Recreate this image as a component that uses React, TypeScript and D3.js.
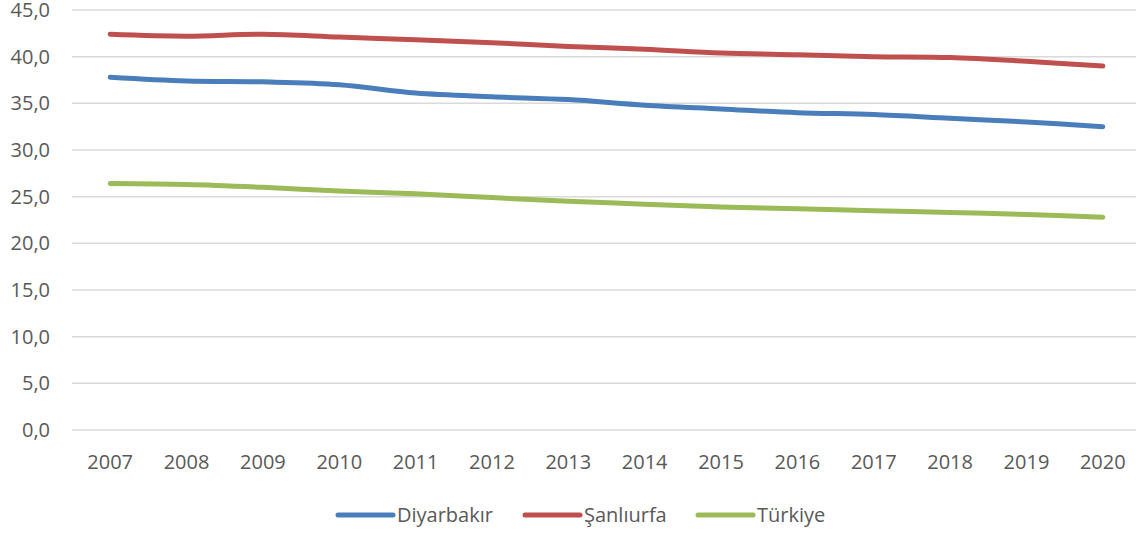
import React, { useRef, useEffect } from 'react';
import * as d3 from 'd3';

const years = ['2007', '2008', '2009', '2010', '2011', '2012', '2013', '2014', '2015', '2016', '2017', '2018', '2019', '2020'];
const diyarbakir = [37.8, 37.4, 37.3, 37.0, 36.1, 35.7, 35.4, 34.8, 34.4, 34.0, 33.8, 33.4, 33.0, 32.5];
const sanliurfa = [42.4, 42.2, 42.4, 42.1, 41.8, 41.5, 41.1, 40.8, 40.4, 40.2, 40.0, 39.9, 39.5, 39.0];
const turkiye = [26.4, 26.3, 26.0, 25.6, 25.3, 24.9, 24.5, 24.2, 23.9, 23.7, 23.5, 23.3, 23.1, 22.8];
const yTicks = [0, 5, 10, 15, 20, 25, 30, 35, 40, 45];

const series = [
  { name: 'Diyarbakır', values: diyarbakir, color: '#4a7ebb' },
  { name: 'Şanlıurfa', values: sanliurfa, color: '#c0504d' },
  { name: 'Türkiye', values: turkiye, color: '#9bbb59' },
];

const LineChart = () => {
  const chart = useRef<HTMLDivElement>(null);

  useEffect(() => {
    d3.select(chart.current).selectAll('*').remove();

    const W = 1136;
    const H = 533;
    const margin = { top: 10, left: 72, right: -5, bottom: 103 };
    const width = W - margin.left - margin.right;
    const height = H - margin.top - margin.bottom;
    const font = '"Open Sans", sans-serif';

    const root = d3
      .select(chart.current)
      .append('svg')
      .attr('width', W)
      .attr('height', H)
      .style('display', 'block')
      .style('background-color', '#fff');

    const svg = root.append('g').attr('transform', `translate(${margin.left}, ${margin.top})`);

    const x = d3.scaleBand().domain(years).range([0, width]);
    const y = d3.scaleLinear().domain([0, 45]).range([height, 0]);

    // gridlines
    svg
      .selectAll('line.grid')
      .data(yTicks)
      .enter()
      .append('line')
      .attr('x1', 0)
      .attr('x2', width)
      .attr('y1', (d) => y(d))
      .attr('y2', (d) => y(d))
      .attr('stroke', '#d9d9d9')
      .attr('stroke-width', 1.5);

    // y labels
    svg
      .selectAll('text.ylab')
      .data(yTicks)
      .enter()
      .append('text')
      .attr('x', -22)
      .attr('y', (d) => y(d))
      .attr('dy', '0.35em')
      .attr('text-anchor', 'end')
      .attr('fill', '#595959')
      .style('font-family', font)
      .style('font-size', '20px')
      .text((d) => d.toFixed(1).replace('.', ','));

    // x labels
    svg
      .selectAll('text.xlab')
      .data(years)
      .enter()
      .append('text')
      .attr('x', (d) => (x(d) as number) + x.bandwidth() / 2)
      .attr('y', height + 39)
      .attr('text-anchor', 'middle')
      .attr('fill', '#595959')
      .style('font-family', font)
      .style('font-size', '20px')
      .text((d) => d);

    const line = d3
      .line<number>()
      .x((d, i) => (x(years[i]) as number) + x.bandwidth() / 2)
      .y((d) => y(d))
      .curve(d3.curveCatmullRom.alpha(0.5));

    series.forEach((s) => {
      svg
        .append('path')
        .datum(s.values)
        .attr('d', line)
        .attr('fill', 'none')
        .attr('stroke', s.color)
        .attr('stroke-width', 5)
        .attr('stroke-linecap', 'round')
        .attr('stroke-linejoin', 'round');
    });

    // legend
    const legendX = [338, 525, 698];
    const legend = root.append('g');
    series.forEach((s, i) => {
      const lx = legendX[i];
      legend
        .append('line')
        .attr('x1', lx)
        .attr('x2', lx + 55)
        .attr('y1', 515)
        .attr('y2', 515)
        .attr('stroke', s.color)
        .attr('stroke-width', 5)
        .attr('stroke-linecap', 'round');
      legend
        .append('text')
        .attr('x', lx + 59)
        .attr('y', 515)
        .attr('dy', '0.35em')
        .attr('fill', '#595959')
        .style('font-family', font)
        .style('font-size', '20px')
        .text(s.name);
    });
  }, []);

  return <div ref={chart}></div>;
};

export default function App() {
  return (
    <div style={{ position: 'absolute', left: 0, top: 0 }}>
      <LineChart />
    </div>
  );
}
